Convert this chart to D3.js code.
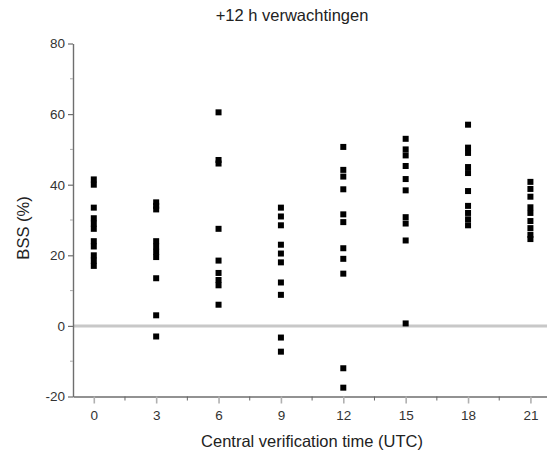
<!DOCTYPE html>
<html>
<head>
<meta charset="utf-8">
<script src="https://cdn.jsdelivr.net/npm/d3@7"></script>
<style>
  html, body { margin: 0; padding: 0; background: #fff; }
  svg { display: block; font-family: "Liberation Sans", Arial, sans-serif; }
</style>
</head>
<body>
<div id="chart"></div>
<script>
// BSS (%) per central verification time
const hours = [0, 3, 6, 9, 12, 15, 18, 21];
const bss00 = [41.5, 40, 33.5, 30.5, 29, 27.5, 24, 22.5, 20, 18.5, 17];
const bss03 = [35, 34, 33, 24, 22.5, 21, 19.5, 13.5, 3, -3];
const bss06 = [60.5, 47, 46, 27.5, 18.5, 15, 13, 11.5, 6];
const bss09 = [33.5, 31, 28.5, 23, 20.5, 18, 12.3, 8.8, -3.3, -7.3];
const bss12 = [50.7, 44.2, 42.3, 38.7, 31.6, 29.4, 22, 19, 14.8, -12, -17.5];
const bss15 = [53, 50, 48.3, 45.3, 41.6, 38.4, 30.8, 29, 24.2, 0.7];
const bss18 = [57, 50.5, 49, 45, 43.3, 38.2, 34, 32, 30.2, 28.5];
const bss21 = [40.8, 38.8, 36.6, 33.6, 32, 29.7, 27.7, 25.8, 24.6];
const bssByHour = [bss00, bss03, bss06, bss09, bss12, bss15, bss18, bss21];

const xTicks = [0, 3, 6, 9, 12, 15, 18, 21];
const yTicks = [-20, 0, 20, 40, 60, 80];

const titleText = "+12 h verwachtingen";
const xTitle = "Central verification time (UTC)";
const yTitle = "BSS (%)";

const width = 547, height = 452;

const points = [];
hours.forEach((h, i) => bssByHour[i].forEach(v => points.push({ h, v })));

const x = d3.scaleLinear().domain([-1, 23]).range([73, 572]);
const y = d3.scaleLinear().domain([-20, 80]).range([396.5, 43.5]);

const svg = d3.select("#chart").append("svg")
    .attr("width", width)
    .attr("height", height)
    .attr("viewBox", [0, 0, width, height]);

// zero reference line
svg.append("line")
    .attr("x1", x(-1)).attr("x2", width)
    .attr("y1", y(0)).attr("y2", y(0))
    .attr("stroke", "#c8c8c8")
    .attr("stroke-width", 3);

// y axis: major + minor ticks
const yAxis = svg.append("g")
    .attr("transform", `translate(${x(-1)},0)`)
    .call(d3.axisLeft(y).tickValues(yTicks).tickFormat(d => String(d))
        .tickSize(5).tickPadding(3).tickSizeOuter(0));
yAxis.select(".domain").attr("stroke", "#6e6e6e").attr("stroke-width", 1.4);
yAxis.selectAll(".tick line").attr("stroke", "#6e6e6e").attr("stroke-width", 1.2);
yAxis.selectAll(".tick text")
    .attr("fill", "#333")
    .style("font-size", "13.5px")
    .style("font-family", "'Liberation Sans', Arial, sans-serif");
yAxis.append("g").selectAll("line")
    .data(d3.range(-10, 80, 20))
    .join("line")
    .attr("x1", -3).attr("x2", 0)
    .attr("y1", d => y(d)).attr("y2", d => y(d))
    .attr("stroke", "#aaa");

// x axis: major ticks lighter and longer, minor ticks darker
const xAxis = svg.append("g")
    .attr("transform", `translate(0,${y(-20)})`)
    .call(d3.axisBottom(x).tickValues(xTicks).tickFormat(d => String(d))
        .tickSize(7).tickPadding(7).tickSizeOuter(0));
xAxis.select(".domain").attr("stroke", "#6e6e6e").attr("stroke-width", 1.4);
xAxis.selectAll(".tick line").attr("stroke", "#b0b0b0").attr("stroke-width", 1.6);
xAxis.selectAll(".tick text")
    .attr("fill", "#333")
    .style("font-size", "13.5px")
    .style("font-family", "'Liberation Sans', Arial, sans-serif");
xAxis.append("g").selectAll("line")
    .data(d3.range(1.5, 23, 3))
    .join("line")
    .attr("x1", d => x(d)).attr("x2", d => x(d))
    .attr("y1", 0).attr("y2", 4)
    .attr("stroke", "#666");

// markers
const ms = 6;
svg.append("g").selectAll("rect")
    .data(points)
    .join("rect")
    .attr("x", d => x(d.h) - ms / 2)
    .attr("y", d => y(d.v) - ms / 2)
    .attr("width", ms)
    .attr("height", ms)
    .attr("fill", "#000");

// titles
svg.append("text")
    .attr("x", 292).attr("y", 21)
    .attr("text-anchor", "middle")
    .attr("fill", "#222")
    .style("font-size", "16.5px")
    .text(titleText);

svg.append("text")
    .attr("x", 312).attr("y", 447)
    .attr("text-anchor", "middle")
    .attr("fill", "#222")
    .style("font-size", "16.5px")
    .text(xTitle);

svg.append("text")
    .attr("transform", `translate(29,228) rotate(-90)`)
    .attr("text-anchor", "middle")
    .attr("fill", "#222")
    .style("font-size", "16.5px")
    .text(yTitle);
</script>
</body>
</html>
